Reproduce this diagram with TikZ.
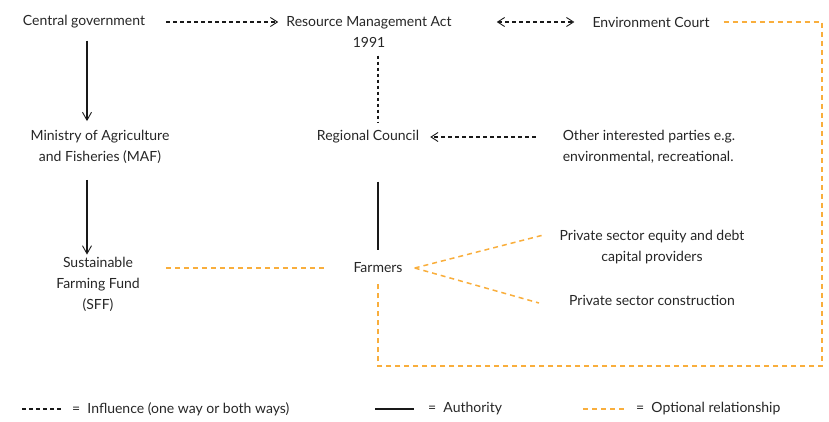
\documentclass[tikz,border=0pt]{standalone}
\usepackage{fontspec}
\setmainfont{Lato}
\usetikzlibrary{arrows.meta}
\definecolor{optorange}{RGB}{249,174,60}
\begin{document}
\begin{tikzpicture}[x=1pt,y=1pt,
        every node/.style={inner sep=0pt,font=\fontsize{14}{21}\selectfont,text=black!85},
        lbl/.style={align=center},
        influence/.style={draw=black!90,line width=1.3pt,dash pattern=on 4pt off 3pt,
          >={Straight Barb[length=7pt,width=9pt,line width=0.9pt]}},
        authority/.style={draw=black!90,line width=1.3pt,
          >={Straight Barb[length=8pt,width=9pt,line width=0.9pt]}},
        optional/.style={draw=optorange,line width=1.5pt,dash pattern=on 5pt off 4pt}]
      \useasboundingbox (0,0) rectangle (829,-421);
      \node (cg) at (84,-22) [lbl] {Central government};
      \node (rma) at (369,-32) [lbl] {Resource Management Act\\1991};
      \node (ec) at (651,-22) [lbl] {Environment Court};
      \node (maf) at (100,-147) [lbl] {Ministry of Agriculture\\and Fisheries (MAF)};
      \node (rc) at (368,-137) [lbl] {Regional Council};
      \node (oth) at (649,-147) [align=left] {Other interested parties e.g.\\environmental, recreational.};
      \node (sff) at (98,-284) [lbl] {Sustainable\\Farming Fund\\(SFF)};
      \node (far) at (378,-268) [lbl] {Farmers};
      \node (pe) at (652,-247) [lbl] {Private sector equity and debt\\capital providers};
      \node (pc) at (652,-300) [lbl] {Private sector construction};
      % influence
      \draw (cg.east) edge[influence,->,shorten <=21pt,shorten >=8pt] (cg.east -| rma.west);
      \draw ([yshift=10pt]rma.east) edge[influence,<->,shorten <=45pt,shorten >=18pt] ([yshift=10pt]rma.east -| ec.west);
      \draw (far |- rma.south) edge[influence,dash pattern=on 3pt off 3pt,shorten <=8pt,shorten >=8pt] (far |- rc.north);
      \draw (oth.west |- rc) edge[influence,->,shorten <=27pt,shorten >=11pt] (rc.east);
      % authority
      \draw ([xshift=3pt]cg.south) edge[authority,->,shorten <=12pt,shorten >=9pt] ([xshift=3pt]cg.south |- maf.north);
      \draw ([xshift=3pt]cg.south |- maf.south) edge[authority,->,shorten <=16pt,shorten >=2pt] ([xshift=3pt]cg.south |- sff.north);
      \draw (far |- rc.south) edge[authority,shorten <=38pt,shorten >=13pt] (far.north);
      % optional
      \draw (sff.east |- far) edge[optional,shorten <=26pt,shorten >=26pt] (far.west);
      \draw ([xshift=12pt]far.east) edge[optional] ([xshift=-16pt,yshift=12pt]pe.west);
      \draw ([xshift=12pt]far.east) edge[optional] ([xshift=-30pt,yshift=-3pt]pc.west);
      \coordinate (se) at (822,-366);
      \draw[optional] ([xshift=14pt]ec.east) -| (se) -| ([yshift=-10pt]far.south);
      % key
      \node (kinf) at (72,-409) [anchor=west] {=\ \ Influence (one way or both ways)};
      \node (kaut) at (428,-409) [anchor=west] {=\ \ Authority};
      \node (kopt) at (636,-409) [anchor=west] {=\ \ Optional relationship};
      \draw ([xshift=-50pt]kinf.west) edge[influence] ([xshift=-10pt]kinf.west);
      \draw ([xshift=-53pt]kaut.west) edge[authority] ([xshift=-14pt]kaut.west);
      \draw ([xshift=-53pt]kopt.west) edge[optional] ([xshift=-12pt]kopt.west);
\end{tikzpicture}
\end{document}
